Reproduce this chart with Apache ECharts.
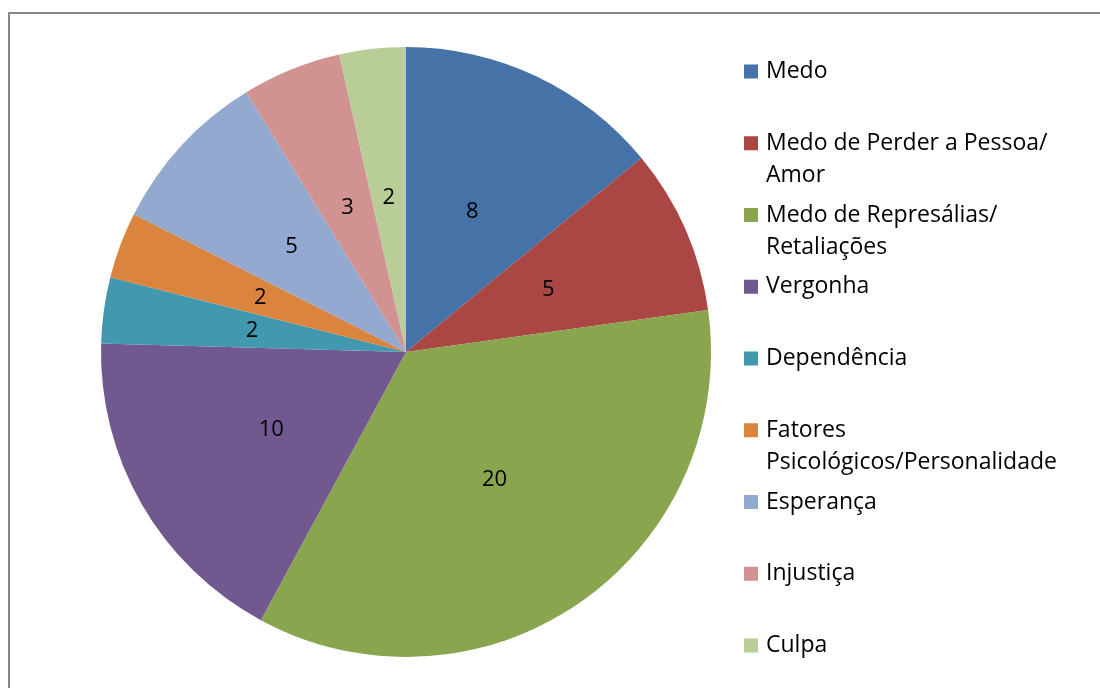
<!DOCTYPE html>
<html>
<head>
<meta charset="utf-8">
<script src="https://cdn.jsdelivr.net/npm/echarts@6/dist/echarts.min.js"></script>
<style>
html,body{margin:0;padding:0;background:#fff;}
#chart{width:1100px;height:688px;}
</style>
</head>
<body>
<div id="chart"></div>
<script>
const categories = ['Medo', 'Medo de Perder a Pessoa/ Amor', 'Medo de Represálias/ Retaliações', 'Vergonha', 'Dependência', 'Fatores Psicológicos/Personalidade', 'Esperança', 'Injustiça', 'Culpa'];
const legendLines = [['Medo'], ['Medo de Perder a Pessoa/', 'Amor'], ['Medo de Represálias/', 'Retaliações'], ['Vergonha'], ['Dependência'], ['Fatores', 'Psicológicos/Personalidade'], ['Esperança'], ['Injustiça'], ['Culpa']];
const values = [8, 5, 20, 10, 2, 2, 5, 3, 2];
const colors = ['#4572A7', '#AA4643', '#89A54E', '#71588F', '#4198AF', '#DB843D', '#93A9CF', '#D19392', '#B9CD96'];

const FONT = 'Open Sans';
const LH = 32;
const legends = categories.map((name, i) => {
  const lines = legendLines[i];
  const multi = lines.length > 1;
  const cy = 71.5 + i * 71.75;
  return {
    data: [name],
    orient: 'vertical',
    left: 744,
    top: multi ? cy - LH * 1.5 : cy - LH / 2,
    padding: 0,
    itemWidth: 14,
    itemHeight: 14,
    icon: 'rect',
    selectedMode: false,
    formatter: () => (multi ? '\n' : '') + lines.join('\n'),
    textStyle: { fontFamily: FONT, fontSize: 23, color: '#000', lineHeight: LH, padding: [0, 0, 0, 3] }
  };
});

const chart = echarts.init(document.getElementById('chart'));
chart.setOption({
  animation: false,
  color: colors,
  graphic: [{
    type: 'rect', silent: true, z: -10,
    shape: { x: 9, y: 13, width: 1200, height: 800 },
    style: { fill: 'none', stroke: '#878787', lineWidth: 2 }
  }],
  legend: legends,
  series: [{
    type: 'pie',
    center: [406, 352],
    radius: [0, 305],
    startAngle: 90,
    clockwise: true,
    avoidLabelOverlap: false,
    label: { show: true, position: 'inside', formatter: '{c}', fontFamily: FONT, fontSize: 22, color: '#000' },
    labelLine: { show: false },
    itemStyle: { borderWidth: 0 },
    emphasis: { disabled: true },
    data: categories.map((n, i) => ({ name: n, value: values[i] }))
  }]
});
</script>
</body>
</html>
